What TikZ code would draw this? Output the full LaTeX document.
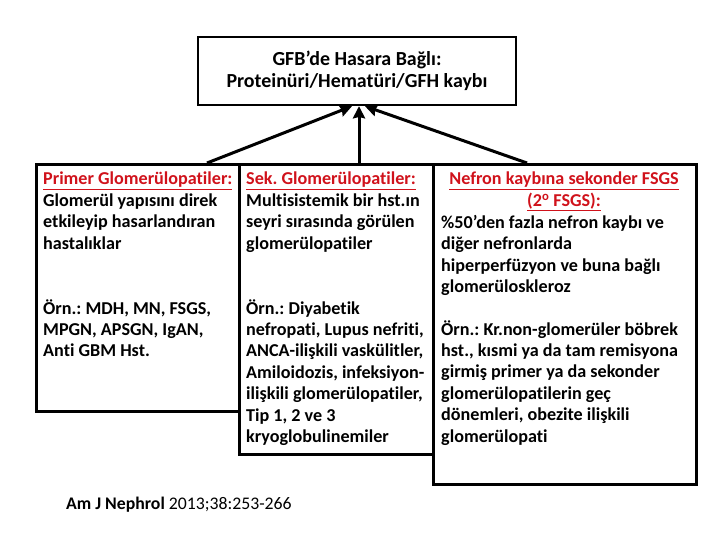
\documentclass[tikz,border=0pt]{standalone}
\usepackage{fontspec}
\setmainfont{Carlito}[Ligatures=NoCommon]
\usetikzlibrary{arrows.meta,positioning,calc}
\definecolor{Red}{HTML}{D0121B}
\frenchspacing

\begin{document}
\begin{tikzpicture}[x=1bp,y=-1bp,
  box/.style={draw,line width=2.8bp,anchor=north west,inner sep=0pt},
  body/.style={anchor=north west,align=left,inner sep=0pt,font=\bfseries\fontsize{18.2}{21.5}\selectfont},
  link/.style={-{Stealth[length=4.3mm,width=4.3mm,inset=0.5mm]},line width=3bp}
]
\useasboundingbox (0,0) rectangle (720,540);
% top box
\node[draw,line width=2.4bp,minimum width=318bp,minimum height=68bp,align=center,
  font=\bfseries\fontsize{20}{22}\selectfont] (top) at (357,71)
  {GFB’de Hasara Bağlı:\\Proteinüri/Hematüri/GFH kaybı};
% three boxes below
\node[box,minimum width=203bp,minimum height=247bp] (prim) at (35,163) {};
\node[box,minimum width=194bp,minimum height=290bp] (sek) at (238,163) {};
\node[box,minimum width=263bp,minimum height=320bp] (nef) at (432,163) {};
\node[body] (primtext) at (43,172) {\textcolor{Red}{\underline{Primer Glomerülopatiler:}}\\
  Glomerül yapısını direk\\
  etkileyip hasarlandıran\\
  hastalıklar\\[43.5bp]
  Örn.: MDH, MN, FSGS,\\
  MPGN, APSGN, IgAN,\\
  Anti GBM Hst.};
\node[body] (sektext) at (246,172) {\textcolor{Red}{\underline{Sek. Glomerülopatiler:}}\\
  Multisistemik bir hst.ın\\
  seyri sırasında görülen\\
  glomerülopatiler\\[43.5bp]
  Örn.: Diyabetik\\
  nefropati, Lupus nefriti,\\
  ANCA-ilişkili vaskülitler,\\
  Amiloidozis, infeksiyon-\\
  ilişkili glomerülopatiler,\\
  Tip 1, 2 ve 3\\
  kryoglobulinemiler};
\node[body,anchor=north,align=center] (neftitle) at (564,172)
  {\textcolor{Red}{\underline{Nefron kaybına sekonder FSGS}}\\
  \textcolor{Red}{\underline{(2\textsuperscript{o} FSGS):}}};
\node[body] (neftext) at (441,215) {\%50’den fazla nefron kaybı ve\\
  diğer nefronlarda\\
  hiperperfüzyon ve buna bağlı\\
  glomerüloskleroz\\[21bp]
  Örn.: Kr.non-glomerüler böbrek\\
  hst., kısmi ya da tam remisyona\\
  girmiş primer ya da sekonder\\
  glomerülopatilerin geç\\
  dönemleri, obezite ilişkili\\
  glomerülopati};
\node[anchor=west,inner sep=0pt,font=\fontsize{17.8}{20}\selectfont] (cite) at (66,505)
  {\textbf{Am J Nephrol} 2013;38:253-266};
% connectors
\draw[link] ($(prim.north west)+(172,0)$) -- ($(top.south)+(-5,0)$);
\draw[link] ($(sek.north west)+(121,0)$) -- ($(top.south)+(2,0)$);
\draw[link] ($(nef.north west)+(95,0)$) -- ($(top.south)+(8,0)$);
\end{tikzpicture}
\end{document}
